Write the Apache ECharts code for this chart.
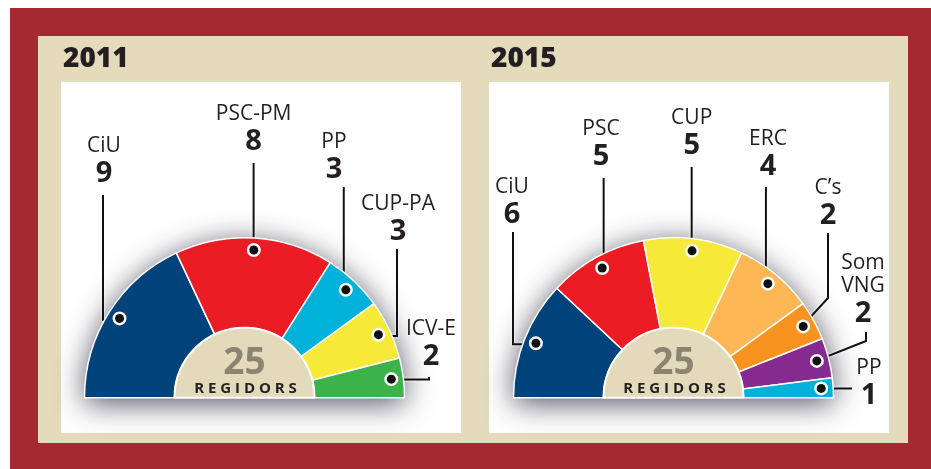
<!DOCTYPE html>
<html><head><meta charset="utf-8">
<script src="https://cdn.jsdelivr.net/npm/echarts@6/dist/echarts.min.js"></script>
<style>html,body{margin:0;padding:0;background:#fff;}#c{width:931px;height:469px;}</style>
</head><body><div id="c"></div>
<script>
// ---- data ----
const years = ['2011', '2015'];
const parties2011 = ['CiU', 'PSC-PM', 'PP', 'CUP-PA', 'ICV-E'];
const seats2011 = [9, 8, 3, 3, 2];
const parties2015 = ['CiU', 'PSC', 'CUP', 'ERC', 'C\u2019s', 'Som VNG', 'PP'];
const seats2015 = [6, 5, 5, 4, 2, 2, 1];
const centerCaption = 'REGIDORS';

// ---- styles / layout ----
const colors2011 = ['#00427a', '#ec1c24', '#00b1d9', '#f7e937', '#3bb34a'];
const colors2015 = ['#00427a', '#ec1c24', '#f7e937', '#fdb855', '#f7931e', '#852a8f', '#00b1d9'];
const INK = '#231f20';
const CY = 397.7, R = 160, R0 = 70, DOT_R = 145;
const FONT = '"Open Sans", "DejaVu Sans", sans-serif';

const panels = [
  { cx: 244.5, titleX: 63, names: parties2011, values: seats2011, colors: colors2011,
    leaders: [
      { lineX: 103, top: 195, lx: 104, lb: 190 },
      { top: 163, lb: 158 },
      { top: 187, lx: 334, lb: 186 },
      { lineX: 397, top: 249, lx: 398, lb: 248 },
      { lineX: 429, top: 377, lx: 431, lb: 373 }
    ] },
  { cx: 673.5, titleX: 491, names: parties2015, values: seats2015, colors: colors2015,
    leaders: [
      { lineX: 513, top: 232, lx: 512, lb: 231 },
      { top: 178, lx: 601, lb: 173 },
      { top: 167, lb: 162 },
      { top: 187, lx: 768, lb: 183 },
      { lineX: 828, top: 233, elbowY: 298, lx: 828, lb: 232 },
      { lineX: 866, top: 332, elbowY: 341, lx: 863, lb: 330 },
      { lineX: 852, horizontal: true, lx: 869, lb: 412 }
    ] }
];

const series = [];
const graphic = [
  { type: 'rect', z: 0, shape: { x: 10, y: 8, width: 921, height: 461 }, style: { fill: '#a52a30' } },
  { type: 'rect', z: 0, shape: { x: 38, y: 36, width: 870, height: 407 }, style: { fill: '#e4dbbc' } },
  { type: 'rect', z: 0, shape: { x: 61, y: 82, width: 400, height: 351 }, style: { fill: '#ffffff' } },
  { type: 'rect', z: 0, shape: { x: 489, y: 82, width: 400, height: 351 }, style: { fill: '#ffffff' } }
];

panels.forEach((p, pi) => {
  const total = p.values.reduce((a, b) => a + b, 0);
  const common = { type: 'pie', center: [p.cx, CY], startAngle: 180, endAngle: 0, clockwise: true, animation: false };
  // shadow backing
  series.push(Object.assign({}, common, {
    z: 1, silent: true, radius: [0, R],
    label: { show: false }, labelLine: { show: false },
    itemStyle: { color: '#ffffff', shadowBlur: 30, shadowColor: 'rgba(30,30,50,0.8)', shadowOffsetY: 5 },
    data: [{ value: total, name: 'total' }]
  }));
  // main seats
  series.push(Object.assign({}, common, {
    z: 2, silent: true, radius: [R0, R], avoidLabelOverlap: false,
    itemStyle: { borderColor: '#ffffff', borderWidth: 1.5 },
    label: {
      show: true, position: 'outside', color: INK, fontFamily: FONT,
      formatter: (d) => '{n|' + d.name.replace(' ', '\n') + '}\n{v|' + d.value + '}',
      rich: {
        n: { fontSize: 21, lineHeight: 23, color: INK, fontFamily: FONT, align: 'center' },
        v: { fontSize: 29, lineHeight: 32, fontWeight: 'bold', color: INK, fontFamily: FONT, align: 'center' }
      }
    },
    labelLine: { show: true, lineStyle: { color: '#111', width: 2, shadowColor: '#ffffff', shadowBlur: 3 } },
    labelLayout: (params) => {
      const sp = p.leaders[params.dataIndex];
      const p0 = params.labelLinePoints[0];
      const k = DOT_R / R;
      const dot = [p.cx + (p0[0] - p.cx) * k, CY + (p0[1] - CY) * k];
      let pts, lx, lb;
      if (sp.horizontal) {
        pts = [dot, [sp.lineX, dot[1]]];
        lx = sp.lx; lb = sp.lb;
      } else {
        const x = sp.lineX != null ? sp.lineX : dot[0];
        const ey = sp.elbowY != null ? sp.elbowY : dot[1];
        pts = [dot, [x, ey], [x, sp.top]];
        lx = sp.lx != null ? sp.lx : x; lb = sp.lb;
      }
      return { x: lx, y: lb, align: 'center', verticalAlign: 'bottom', labelLinePoints: pts };
    },
    data: p.names.map((n, i) => ({ name: n, value: p.values[i], itemStyle: { color: p.colors[i] } }))
  }));
  // inner total
  series.push(Object.assign({}, common, {
    z: 3, silent: true, radius: [0, R0],
    label: { show: false }, labelLine: { show: false },
    itemStyle: { color: '#e3d9bb', borderColor: '#ffffff', borderWidth: 2 },
    data: [{ value: total, name: 'total' }]
  }));
  // dots
  series.push(Object.assign({}, common, {
    z: 4, silent: true, radius: [DOT_R - 6, DOT_R + 6],
    itemStyle: { color: 'rgba(0,0,0,0)' },
    label: {
      show: true, position: 'inside', formatter: '{d|}',
      rich: { d: { width: 9, height: 9, backgroundColor: '#111', borderColor: '#ffffff', borderWidth: 2.5, borderRadius: 7 } }
    },
    labelLine: { show: false },
    data: p.names.map((n, i) => ({ name: n, value: p.values[i] }))
  }));
  graphic.push(
    { type: 'text', z: 50, x: p.titleX, y: 59, style: { text: years[pi], fill: INK, font: '800 28px ' + FONT, align: 'left', verticalAlign: 'middle' } },
    { type: 'text', z: 50, x: p.cx, y: 363, style: { text: String(total), fill: '#8a8471', font: 'bold 37px ' + FONT, align: 'center', verticalAlign: 'middle' } },
    { type: 'text', z: 50, x: p.cx + 1, y: 388.5, style: { text: centerCaption.split('').join(' '), fill: INK, font: 'bold 15px ' + FONT, align: 'center', verticalAlign: 'middle' } }
  );
});

const chart = echarts.init(document.getElementById('c'), null, { renderer: 'canvas' });
chart.setOption({ animation: false, graphic: graphic, series: series });
</script></body></html>
